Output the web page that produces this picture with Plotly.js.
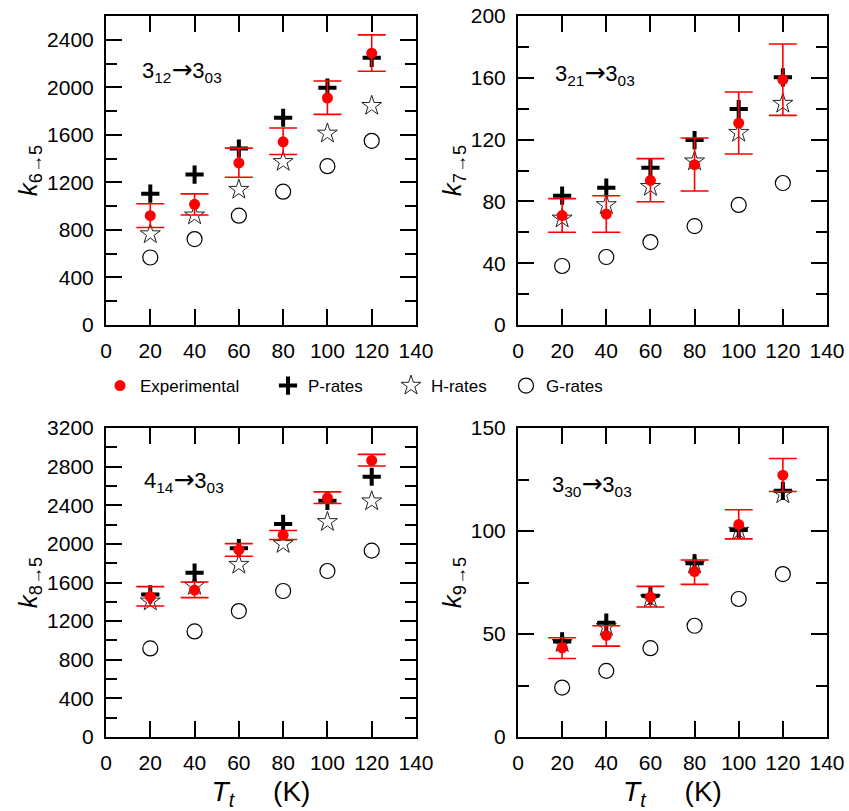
<!DOCTYPE html>
<html>
<head>
<meta charset="utf-8">
<script src="https://cdn.plot.ly/plotly-3.0.1.min.js"></script>
<style>html,body{margin:0;padding:0;background:#fff;}#chart{width:849px;height:811px;}</style>
</head>
<body>
<div id="chart"></div>
<script>
// ---- Data ----
const temps = [20, 40, 60, 80, 100, 120];

// Panel 1: k 6->5 (3_12 -> 3_03)
const exp65 = [920, 1015, 1364, 1541, 1910, 2287];
const exp65ErrPlus = [100, 88, 124, 116, 143, 154];
const exp65ErrMinus = [100, 90, 121, 106, 138, 152];
const p65 = [1105, 1266, 1485, 1744, 1997, 2248];
const h65 = [765, 923, 1139, 1373, 1612, 1845];
const g65 = [568, 723, 920, 1122, 1336, 1550];

// Panel 2: k 7->5 (3_21 -> 3_03)
const exp75 = [70.8, 71.8, 93.6, 103.8, 130.7, 158.8];
const exp75ErrPlus = [11, 11.9, 14.1, 17.2, 20.1, 23.1];
const exp75ErrMinus = [10.8, 11.8, 13.8, 17.1, 20, 23.1];
const p75 = [83.7, 88.9, 101.8, 119.7, 139.8, 160.3];
const h75 = [69, 77.7, 89.5, 106, 124.5, 143.3];
const g75 = [38.2, 44, 53.7, 64, 77.7, 91.9];

// Panel 3: k 8->5 (4_14 -> 3_03)
const exp85 = [1453, 1522, 1937, 2090, 2477, 2864];
const exp85ErrPlus = [104, 83, 66, 48, 62, 63];
const exp85ErrMinus = [97, 79, 65, 45, 59, 58];
const p85 = [1477, 1702, 1955, 2207, 2446, 2695];
const h85 = [1405, 1567, 1785, 2000, 2228, 2442];
const g85 = [917, 1093, 1304, 1512, 1719, 1930];

// Panel 4: k 9->5 (3_30 -> 3_03)
const exp95 = [43.3, 49.3, 67.9, 80.3, 103.1, 127.1];
const exp95ErrPlus = [4.9, 4.7, 5.2, 5.6, 7.2, 8.1];
const exp95ErrMinus = [5.2, 5.2, 4.8, 6.2, 6.9, 7.9];
const p95 = [46.4, 55.5, 68.6, 84.3, 100.5, 119.5];
const h95 = [45.7, 53.5, 67.3, 83.8, 100.2, 117.9];
const g95 = [24, 32.1, 43.1, 54, 67, 79.1];

const seriesNames = ['Experimental', 'P-rates', 'H-rates', 'G-rates'];
const ARROW = '<span style="font-family:\'DejaVu Sans\';font-size:25px">→</span>';
const transitions = [
  '3<sub>12</sub>' + ARROW + '3<sub>03</sub>',
  '3<sub>21</sub>' + ARROW + '3<sub>03</sub>',
  '4<sub>14</sub>' + ARROW + '3<sub>03</sub>',
  '3<sub>30</sub>' + ARROW + '3<sub>03</sub>'
];
const yTitles = ['<i>k</i><sub>6→5</sub>', '<i>k</i><sub>7→5</sub>', '<i>k</i><sub>8→5</sub>', '<i>k</i><sub>9→5</sub>'];

const panels = [
  {exp: exp65, ep: exp65ErrPlus, em: exp65ErrMinus, p: p65, h: h65, g: g65, yr: [0, 2600], dt: 400},
  {exp: exp75, ep: exp75ErrPlus, em: exp75ErrMinus, p: p75, h: h75, g: g75, yr: [0, 200], dt: 40},
  {exp: exp85, ep: exp85ErrPlus, em: exp85ErrMinus, p: p85, h: h85, g: g85, yr: [0, 3200], dt: 400},
  {exp: exp95, ep: exp95ErrPlus, em: exp95ErrMinus, p: p95, h: h95, g: g95, yr: [0, 150], dt: 50}
];

// ---- Layout geometry (pixels) ----
const W = 849, H = 811;
const colX = [[106, 416], [518, 827]];
const rowY = [[16, 325], [428, 737]];
const px = v => v / W;
const py = v => 1 - v / H;

const FONT = 'Liberation Sans, Arial, sans-serif';
const traces = [];
const layout = {
  width: W, height: H,
  margin: {l: 0, r: 0, t: 0, b: 0},
  paper_bgcolor: '#fff', plot_bgcolor: '#fff',
  font: {family: FONT, color: '#000', size: 21},
  annotations: [],
  showlegend: true
};

const legendNames = ['legend', 'legend2', 'legend3', 'legend4'];
const legendX = [100, 268, 391, 506];
legendNames.forEach((ln, i) => {
  layout[ln] = {
    x: px(legendX[i]), xanchor: 'left', y: py(386), yanchor: 'middle',
    orientation: 'h', font: {family: FONT, size: 17, color: '#000'},
    bgcolor: 'rgba(0,0,0,0)', borderwidth: 0, itemclick: false
  };
});

panels.forEach((pn, i) => {
  const row = Math.floor(i / 2), col = i % 2;
  const ax = i === 0 ? '' : String(i + 1);
  const xa = 'x' + ax, ya = 'y' + ax;
  const first = i === 0;
  traces.push({
    x: temps, y: pn.g, xaxis: xa, yaxis: ya, type: 'scatter', mode: 'markers',
    name: seriesNames[3], legend: 'legend4', showlegend: first,
    marker: {symbol: 'circle-open', size: 15, color: '#000', line: {width: 1.2, color: '#000'}}
  });
  traces.push({
    x: temps, y: pn.h, xaxis: xa, yaxis: ya, type: 'scatter', mode: 'markers',
    name: seriesNames[2], legend: 'legend3', showlegend: first,
    marker: {symbol: 'star-open', size: 15, color: '#222', line: {width: 1, color: '#222'}}
  });
  traces.push({
    x: temps, y: pn.p, xaxis: xa, yaxis: ya, type: 'scatter', mode: 'markers',
    name: seriesNames[1], legend: 'legend2', showlegend: first,
    marker: {symbol: 'cross-thin', size: 13, color: '#000', line: {width: 4, color: '#000'}}
  });
  traces.push({
    x: temps, y: pn.exp, xaxis: xa, yaxis: ya, type: 'scatter', mode: 'markers',
    name: seriesNames[0], legend: 'legend', showlegend: first,
    marker: {symbol: 'circle', size: 11, color: '#ff0000'},
    error_y: {type: 'data', symmetric: false, array: pn.ep, arrayminus: pn.em,
              color: '#ff0000', thickness: 1.6, width: 14}
  });

  const xKey = 'xaxis' + ax, yKey = 'yaxis' + ax;
  layout[xKey] = {
    domain: [px(colX[col][0]), px(colX[col][1])],
    anchor: ya, range: [0, 140], tickmode: 'linear', tick0: 0, dtick: 20,
    ticks: 'inside', ticklen: 16, tickwidth: 2, tickcolor: '#000',
    showline: true, linewidth: 2, linecolor: '#000', mirror: 'allticks',
    showgrid: false, zeroline: false, fixedrange: true, ticklabelstandoff: 6,
    tickfont: {family: FONT, size: 21, color: '#000'}
  };
  if (row === 1) {
    layout[xKey].title = {text: '<i>T</i><sub><i>t</i></sub>     (K)', font: {family: FONT, size: 28, color: '#000'}, standoff: 11};
  }
  layout[yKey] = {
    domain: [py(rowY[row][1]), py(rowY[row][0])],
    anchor: xa, range: pn.yr, tickmode: 'linear', tick0: 0, dtick: pn.dt,
    ticks: 'inside', ticklen: 16, tickwidth: 2, tickcolor: '#000',
    minor: {ticks: 'inside', ticklen: 11, tickwidth: 2, tickcolor: '#000', dtick: pn.dt / 2, tick0: 0, showgrid: false},
    showline: true, linewidth: 2, linecolor: '#000', mirror: 'allticks',
    showgrid: false, zeroline: false, fixedrange: true, ticklabelstandoff: 6,
    tickfont: {family: FONT, size: 21, color: '#000'},
    title: {text: yTitles[i], font: {family: FONT, size: 26, color: '#000'}, standoff: 2}
  };
  const annX = [140, 553, 142, 550][i];
  const annY = [70, 73, 480, 485][i];
  layout.annotations.push({
    text: transitions[i], xref: 'paper', yref: 'paper', x: px(annX), y: py(annY),
    xanchor: 'left', yanchor: 'middle', showarrow: false,
    font: {family: FONT, size: 22, color: '#000'}
  });
});

Plotly.newPlot('chart', traces, layout, {displayModeBar: false, staticPlot: true});
</script>
</body>
</html>
